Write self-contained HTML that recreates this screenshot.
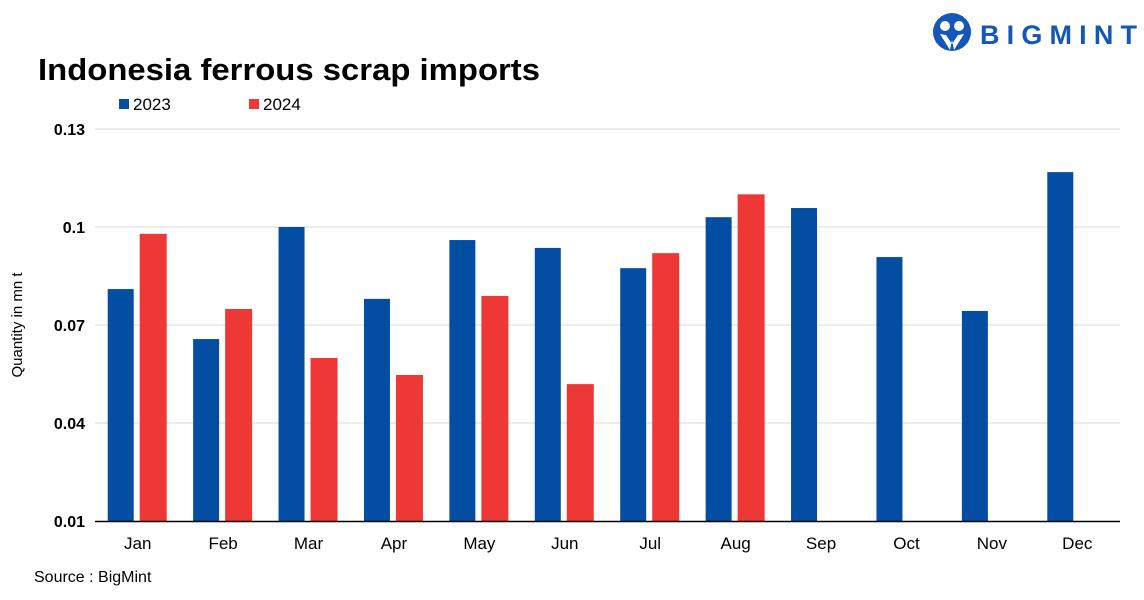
<!DOCTYPE html>
<html><head><meta charset="utf-8"><style>
body{margin:0;background:#fff;font-family:"Liberation Sans",sans-serif;}
svg text{font-family:"Liberation Sans",sans-serif;}
</style></head><body>
<svg width="1144" height="595" viewBox="0 0 1144 595">
<g>
<circle cx="952" cy="32" r="19" fill="#1457b8"/>
<circle cx="945" cy="26" r="5" fill="#fff"/><circle cx="959" cy="26" r="5" fill="#fff"/>
<path d="M940 34 L950 50 L952 40 L954 50 L964 34 L958 35 L952 44 L946 35Z" fill="#fff"/>
<text x="980" y="44" font-size="27" font-weight="bold" fill="#1457b8" textLength="157" lengthAdjust="spacing">BIGMINT</text>
</g>
<text x="38" y="80" font-size="31" font-weight="bold" fill="#000" textLength="502" lengthAdjust="spacingAndGlyphs">Indonesia ferrous scrap imports</text>
<g>
<rect x="119" y="99" width="10" height="10" fill="#034ea2"/>
<text x="133" y="110" font-size="17">2023</text>
<rect x="249" y="99" width="10" height="10" fill="#ee3835"/>
<text x="263" y="110" font-size="17">2024</text>
</g>
<text transform="translate(22,325) rotate(-90)" text-anchor="middle" font-size="15">Quantity in mn t</text>
<g id="grid"></g><g id="bars"></g><g id="xl"></g>
<line x1="95" x2="1120" y1="521.5" y2="521.5" stroke="#000" stroke-width="1.5"/>
<text x="34" y="582" font-size="16">Source : BigMint</text>
<script>
const categories=["Jan","Feb","Mar","Apr","May","Jun","Jul","Aug","Sep","Oct","Nov","Dec"];
const values2023=[0.081,0.0657,0.1,0.078,0.096,0.0936,0.0874,0.103,0.1058,0.0908,0.0743,0.1168];
const values2024=[0.0979,0.0749,0.0599,0.0547,0.0789,0.0519,0.092,0.110,null,null,null,null];
const ticks=[0.01,0.04,0.07,0.1,0.13];
const tickLabels=["0.01","0.04","0.07","0.1","0.13"];
const NS="http://www.w3.org/2000/svg";
const y=v=>521-(v-0.01)/0.12*392;
const bw=1025/12;
const xc=i=>95+bw*(i+0.5);
function mk(t,a,p){const e=document.createElementNS(NS,t);for(const k in a)e.setAttribute(k,a[k]);document.getElementById(p).appendChild(e);return e;}
ticks.forEach((t,i)=>{
 if(i>0){const l=mk('line',{x1:95,x2:1120,y1:y(t),y2:y(t),stroke:'#d9d9d9','stroke-width':1},'grid');
 
 }
 const tx=mk('text',{x:85,y:y(t)+6,'text-anchor':'end','font-size':16,'font-weight':'bold'},'grid');
 tx.textContent=tickLabels[i];
 
 
});
categories.forEach((c,i)=>{
 const a=values2023[i];
 if(a!=null){const r=mk('rect',{x:xc(i)-30,y:y(a),width:26,height:521-y(a),fill:'#034ea2'},'bars');
 
 }
 const b=values2024[i];
 if(b!=null){const r=mk('rect',{x:xc(i)+2,y:y(b),width:27,height:521-y(b),fill:'#ee3835'},'bars');
 
 }
 const t=mk('text',{x:xc(i),y:549,'text-anchor':'middle','font-size':17},'xl');
 t.textContent=c;
 
 
});
</script>
</svg>
</body></html>
